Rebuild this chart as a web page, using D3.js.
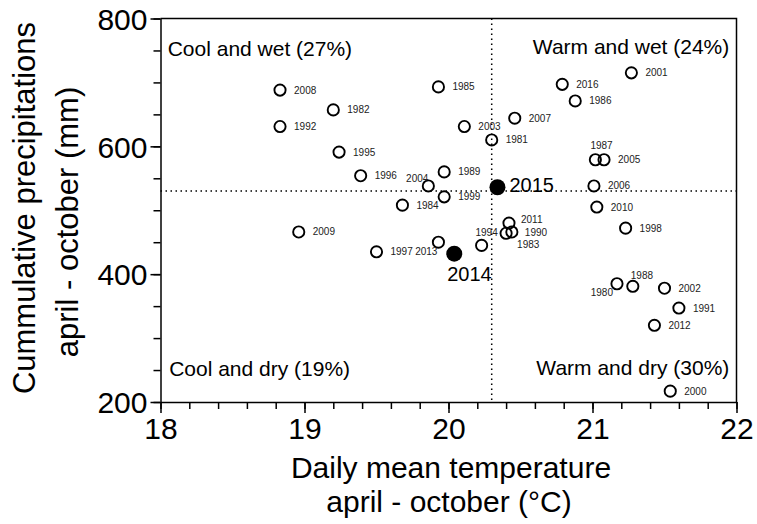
<!DOCTYPE html>
<html>
<head>
<meta charset="utf-8">
<script src="https://cdn.jsdelivr.net/npm/d3@7"></script>
<style>
  body { margin: 0; background: #fff; }
  svg { font-family: "Liberation Sans", Arial, sans-serif; }
</style>
</head>
<body>
<div id="chart"></div>
<script>
// years, temperature (°C) and precipitation (mm), april - october
var years = [2008, 1982, 1992, 1995, 1996, 2004, 1989, 1999, 1984, 1985,
             2009, 1997, 2013, 2014, 2001, 2016, 1986, 2007, 2003, 1981,
             1987, 2005, 2015, 2006, 2010, 2011, 1983, 1990, 1994, 1998,
             1980, 1988, 2002, 1991, 2012, 2000];
var temps = [18.83, 19.20, 18.83, 19.24, 19.39, 19.86, 19.97, 19.97, 19.68, 19.93,
             18.96, 19.50, 19.93, 20.04, 21.27, 20.79, 20.88, 20.46, 20.11, 20.30,
             21.02, 21.08, 20.34, 21.01, 21.03, 20.42, 20.40, 20.44, 20.23, 21.23,
             21.17, 21.28, 21.50, 21.60, 21.43, 21.54];
var precips = [688, 657, 631, 591, 554, 538, 560, 521, 508, 693,
               466, 435, 450, 432, 715, 697, 671, 644, 631, 610,
               579, 579, 536, 538, 505, 480, 464, 466, 445, 472,
               385, 381, 378, 347, 320, 217];
var highlight = [2014, 2015];
var meanTemp = 20.3;
var meanPrecip = 530;

var xTicks = [18, 19, 20, 21, 22];
var yTicks = [200, 400, 600, 800];

var quadrants = [
    {text: "Cool and wet (27%)", t: 18.05, p: 742, anchor: "start"},
    {text: "Warm and wet (24%)", t: 21.95, p: 744, anchor: "end"},
    {text: "Cool and dry (19%)", t: 18.06, p: 241, anchor: "start"},
    {text: "Warm and dry (30%)", t: 21.95, p: 242, anchor: "end"}
];

function drawChart() {

    var w = 757;
    var h = 524;
    var pLeft = 160.5, pRight = 736.5, pTop = 18.5, pBottom = 402;

    var svg = d3.select("#chart").append("svg").attr("width", w).attr("height", h);

    var xScale = d3.scaleLinear().domain([18, 22]).range([pLeft, pRight]);
    var yScale = d3.scaleLinear().domain([200, 800]).range([pBottom, pTop]);

    // frame (top and right)
    svg.append("path")
        .attr("d", "M" + pLeft + "," + pTop + "H" + pRight + "V" + pBottom)
        .attr("fill", "none").attr("stroke", "#000").attr("stroke-width", 1.5);

    // minor ticks
    var xMinor = svg.append("g").attr("transform", "translate(0," + pBottom + ")")
        .call(d3.axisBottom(xScale).tickValues(d3.range(18, 22.01, 0.2)).tickSize(7).tickFormat(""));
    var yMinor = svg.append("g").attr("transform", "translate(" + pLeft + ",0)")
        .call(d3.axisLeft(yScale).tickValues(d3.range(200, 801, 50)).tickSize(7).tickFormat(""));

    // major axes
    var xAxis = svg.append("g").attr("transform", "translate(0," + pBottom + ")")
        .call(d3.axisBottom(xScale).tickValues(xTicks).tickSize(11).tickSizeOuter(0).tickPadding(5).tickFormat(d3.format("d")));
    var yAxis = svg.append("g").attr("transform", "translate(" + pLeft + ",0)")
        .call(d3.axisLeft(yScale).tickValues(yTicks).tickSize(10).tickSizeOuter(0).tickPadding(3));

    [xMinor, yMinor, xAxis, yAxis].forEach(function (g) {
        g.selectAll("line").attr("stroke", "#000").attr("stroke-width", 1.5);
        g.select(".domain").attr("stroke", "#000").attr("stroke-width", 1.5);
        g.selectAll("text").attr("fill", "#000").attr("font-size", "30px")
            .attr("font-family", "\"Liberation Sans\", Arial, sans-serif");
    });
    xMinor.select(".domain").remove();
    yMinor.select(".domain").remove();
    yAxis.selectAll("text").attr("dy", "0.36em");

    // mean lines
    svg.append("line")
        .attr("x1", pLeft).attr("x2", pRight)
        .attr("y1", yScale(meanPrecip)).attr("y2", yScale(meanPrecip))
        .attr("stroke", "#000").attr("stroke-width", 1.5).attr("stroke-dasharray", "1.5,3.5");
    svg.append("line")
        .attr("x1", xScale(meanTemp)).attr("x2", xScale(meanTemp))
        .attr("y1", pTop).attr("y2", pBottom)
        .attr("stroke", "#000").attr("stroke-width", 1.5).attr("stroke-dasharray", "1.5,3.5");

    // quadrant labels
    svg.selectAll(".quad").data(quadrants).enter().append("text")
        .attr("class", "quad")
        .attr("x", function (d) { return xScale(d.t); })
        .attr("y", function (d) { return yScale(d.p); })
        .attr("text-anchor", function (d) { return d.anchor; })
        .attr("font-size", "21px")
        .text(function (d) { return d.text; });

    // points
    var points = years.map(function (y, i) {
        return {year: y, t: temps[i], p: precips[i], hi: highlight.indexOf(y) >= 0};
    });

    svg.selectAll(".dot").data(points).enter().append("circle")
        .attr("class", "dot")
        .attr("cx", function (d) { return xScale(d.t); })
        .attr("cy", function (d) { return yScale(d.p); })
        .attr("r", function (d) { return d.hi ? 8 : 5.6; })
        .attr("fill", function (d) { return d.hi ? "#000" : "none"; })
        .attr("stroke", "#000")
        .attr("stroke-width", function (d) { return d.hi ? 0 : 1.9; });

    // label placement (offsets from the point, px)
    var labelOffset = {
        2004: [0, -4, "end"], 2013: [-1, 13, "end"], 1994: [5, -9, "middle"],
        1980: [-4, 12, "end"], 1988: [-2, -7, "start"], 1987: [-5, -11, "start"],
        1983: [11, 15, "start"], 2011: [12, 0, "start"], 1990: [13, 4, "start"],
        2014: [-7, 27, "start"], 2015: [12, 5, "start"]
    };

    svg.selectAll(".lab").data(points).enter().append("text")
        .attr("class", "lab")
        .attr("x", function (d) { return xScale(d.t) + (labelOffset[d.year] ? labelOffset[d.year][0] : 14); })
        .attr("y", function (d) { return yScale(d.p) + (labelOffset[d.year] ? labelOffset[d.year][1] : 3.5); })
        .attr("text-anchor", function (d) { return labelOffset[d.year] ? labelOffset[d.year][2] : "start"; })
        .attr("font-size", function (d) { return d.hi ? "20px" : "10px"; })
        .attr("fill", function (d) { return d.hi ? "#000" : "#222"; })
        .text(function (d) { return d.year; });

    // axis titles
    var xTitle = svg.append("text").attr("text-anchor", "middle").attr("font-size", "30px");
    xTitle.append("tspan").attr("x", 451).attr("y", 478).text("Daily mean temperature");
    xTitle.append("tspan").attr("x", 449).attr("y", 512).text("april - october (°C)");

    var yTitle = svg.append("text").attr("text-anchor", "middle").attr("font-size", "31px")
        .attr("transform", "rotate(-90)");
    yTitle.append("tspan").attr("x", -208).attr("y", 35).text("Cummulative precipitations");
    yTitle.append("tspan").attr("x", -222).attr("y", 78).text("april - october (mm)");
}

drawChart();
</script>
</body>
</html>
